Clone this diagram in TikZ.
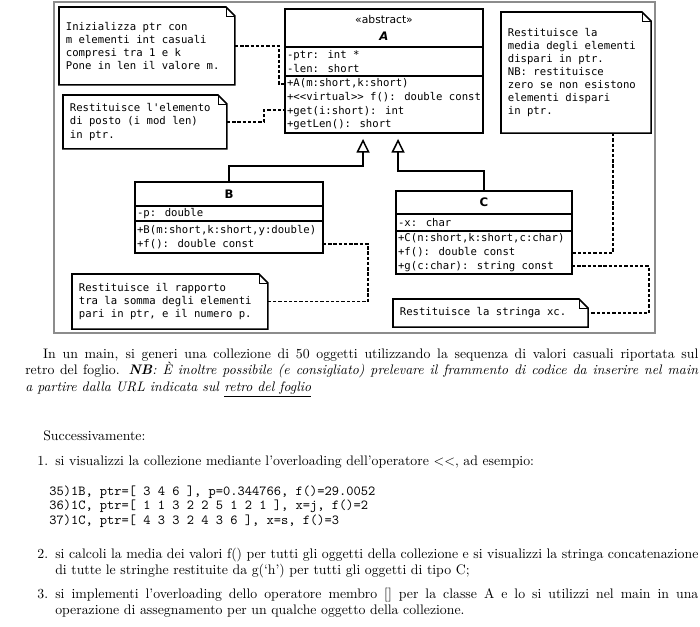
\documentclass[tikz,border=0pt]{standalone}
\usepackage{fontspec}
\newfontfamily\umlmono{DejaVu Sans Mono}[Ligatures=TeXOff]
\newfontfamily\umlsans{DejaVu Sans}[Ligatures=TeXOff]
\usetikzlibrary{positioning,calc,arrows.meta}

\begin{document}
\begin{tikzpicture}[x=0.7246pt,y=-0.7246pt,
    classhead/.style={draw, line width=1.1pt, outer sep=0pt, anchor=north west, inner sep=0pt, align=center, font=\umlsans\bfseries\fontsize{8.5}{11}\selectfont},
    classpart/.style={draw, line width=1.1pt, outer sep=0pt, inner xsep=1.5pt, inner ysep=0pt, align=flush left, font=\umlmono\fontsize{7.7}{9.9}\selectfont},
    note/.style={anchor=north west, fill=white, outer sep=0pt, inner xsep=5pt, inner ysep=0pt, align=flush left, font=\umlmono\fontsize{7.7}{9.5}\selectfont},
    dep/.style={line width=1pt, dash pattern=on 2.4pt off 1.4pt},
    inherit/.style={line width=1.1pt, -{Triangle[open, length=10pt, width=9.5pt]}},
    prose/.style={anchor=base west, inner sep=0pt, align=justify},
    itemlabel/.style={anchor=base east, inner sep=0pt}
]
\useasboundingbox (0,0) rectangle (700,627);

% frame of the class diagram
\draw[black!45, line width=0.8pt] (54,2) rectangle (655,333);

% class A
\node[classhead, minimum width=143.5pt, minimum height=27.5pt] (Ahead) at (285,9)
    {{\mdseries\fontsize{7.8}{8}\selectfont «abstract»}\\[1pt]\textit{A}};
\node[classpart, text width=140.5pt, minimum height=21pt, below=0pt of Ahead] (Aattr)
    {-ptr: int *\\-len: short};
\node[classpart, text width=140.5pt, minimum height=41.3pt, below=0pt of Aattr] (Aops)
    {+A(m:short,k:short)\\+<<virtual>> f(): double const\\+get(i:short): int\\+getLen(): short};

% class B
\node[classhead, minimum width=136.2pt, minimum height=17.4pt] (Bhead) at (135,182) {B};
\node[classpart, text width=133.2pt, minimum height=10.9pt, below=0pt of Bhead] (Battr)
    {-p: double};
\node[classpart, text width=133.2pt, minimum height=23.2pt, below=0pt of Battr] (Bops)
    {+B(m:short,k:short,y:double)\\+f(): double const};

% class C
\node[classhead, minimum width=127.5pt, minimum height=16.7pt] (Chead) at (396,191) {C};
\node[classpart, text width=124.5pt, minimum height=12.3pt, below=0pt of Chead] (Cattr)
    {-x: char};
\node[classpart, text width=124.5pt, minimum height=31.2pt, below=0pt of Cattr] (Cops)
    {+C(n:short,k:short,c:char)\\+f(): double const\\+g(c:char): string const};

% notes
\node[note, text width=117.5pt, minimum height=56.5pt] (nA) at (59,7)
    {Inizializza ptr con\\m elementi int casuali\\compresi tra 1 e k\\Pone in len il valore m.};
\node[note, text width=108.8pt, minimum height=39.1pt] (nget) at (63,95)
    {Restituisce l'elemento\\di posto (i mod len)\\in ptr.};
\node[note, text width=98.7pt, minimum height=87.7pt] (nf) at (501,12)
    {Restituisce la\\media degli elementi\\dispari in ptr.\\NB: restituisce\\zero se non esistono\\elementi dispari\\in ptr.};
\node[note, text width=132pt, minimum height=39.9pt] (nB) at (72,274)
    {Restituisce il rapporto\\tra la somma degli elementi\\pari in ptr, e il numero p.};
\node[note, text width=131.3pt, minimum height=20.3pt] (nC) at (393,299)
    {Restituisce la stringa xc.};

\foreach \n in {nA,nget,nf,nB,nC}{
    \draw[line width=1.1pt] (\n.north west) -- ([xshift=-6.5pt]\n.north east)
        -- ([yshift=-6.5pt]\n.north east) -- (\n.south east) -- (\n.south west) -- cycle;
    \draw[line width=0.5pt] ([xshift=-6.5pt]\n.north east) |- ([yshift=-6.5pt]\n.north east);
}

% note links
\draw[dep] (nA.east) -- ++(44,0) |- ($(Aops.north west)+(0,8)$);
\draw[dep] (nget.east) -- ++(37,0) |- ($(Aops.north west)+(0,34)$);
\draw[dep] ($(nf.south east)+(-38,0)$) |- ($(Cops.north east)+(0,22)$);
\draw[dep] ($(Bops.north east)+(0,23)$) -- ++(45,0) |- (nB.east);
\draw[dep] ($(Cops.north east)+(0,35)$) -- ++(77,0) |- (nC.east);

% generalisation
\coordinate (Bgen) at ($(Aops.south)+(-21,6)$);
\coordinate (Cgen) at ($(Aops.south)+(14,6)$);
\draw[inherit] (Bhead.north) -- ++(0,-16) -| (Bgen);
\draw[inherit] (Chead.north) -- ++(0,-20) -| (Cgen);

% text of the exercise
\node[prose, text width=487.7pt] (intro) at (25,358)
    {\hspace*{13pt}In un main, si generi una collezione di 50 oggetti utilizzando la sequenza di valori casuali riportata sul\linebreak
    retro del foglio. \textbf{\textit{NB}}\textit{: È inoltre possibile (e consigliato) prelevare il frammento di codice da inserire nel main}\linebreak
    \textit{a partire dalla URL indicata sul} \underline{\textit{retro del foglio}}};
\node[prose] (succ) at (43,440) {Successivamente:};

\node[itemlabel] (l1) at (48.5,465) {1.};
\node[prose, text width=466pt] (i1) at (55,465)
    {si visualizzi la collezione mediante l'overloading dell'operatore $<<$, ad esempio:};
\node[prose, text width=450pt, align=flush left, font=\ttfamily\fontsize{10}{10.6}\selectfont] (code) at (49,495)
    {35)1B, ptr=[ 3 4 6 ], p=0.344766, f()=29.0052\\36)1C, ptr=[ 1 1 3 2 2 5 1 2 1 ], x=j, f()=2\\37)1C, ptr=[ 4 3 3 2 4 3 6 ], x=s, f()=3};

\node[itemlabel] (l2) at (48.5,558) {2.};
\node[prose, text width=466pt] (i2) at (55,558)
    {si calcoli la media dei valori f() per tutti gli oggetti della collezione e si visualizzi la stringa concatenazione\linebreak
    di tutte le stringhe restituite da g(`h') per tutti gli oggetti di tipo C;};

\node[itemlabel] (l3) at (48.5,598) {3.};
\node[prose, text width=466pt] (i3) at (55,598)
    {si implementi l'overloading dello operatore membro [] per la classe A e lo si utilizzi nel main in una\linebreak
    operazione di assegnamento per un qualche oggetto della collezione.};
\end{tikzpicture}
\end{document}
